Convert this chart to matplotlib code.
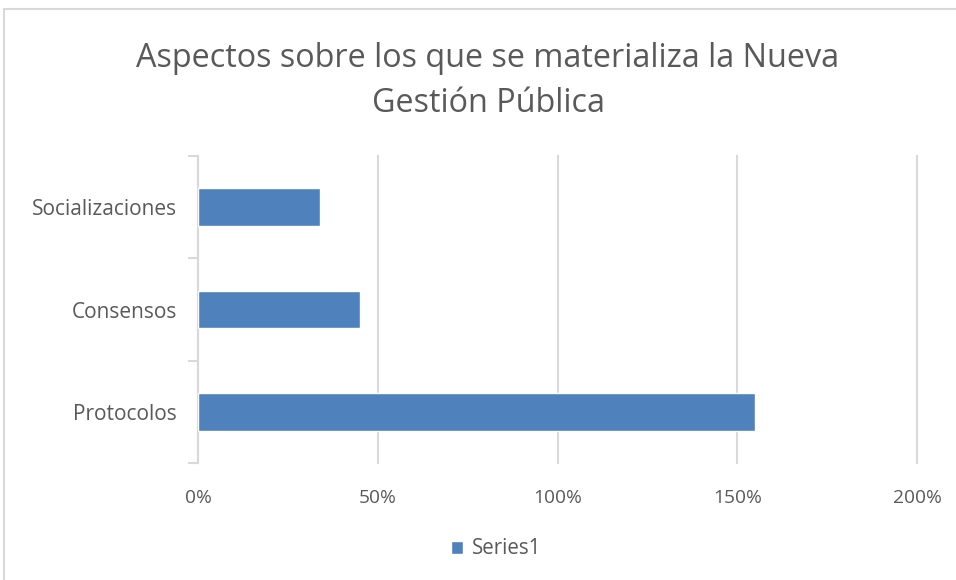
import matplotlib
matplotlib.use("Agg")
import matplotlib.pyplot as plt
from matplotlib.patches import Rectangle
from matplotlib.ticker import FuncFormatter, FixedLocator

categories = ["Protocolos", "Consensos", "Socializaciones"]
values = [1.55, 0.45, 0.34]
series_name = "Series1"
title = "Aspectos sobre los que se materializa la Nueva\nGestión Pública"
x_ticks = [0, 0.5, 1.0, 1.5, 2.0]

W, H = 956, 580
fig = plt.figure(figsize=(W / 100, H / 100), dpi=100)
fig.patch.set_facecolor("white")

# outer chart frame (extends beyond right/bottom edges)
fig.add_artist(Rectangle((4 / W, -0.1), 1.2, (H - 9) / H + 0.1,
                         transform=fig.transFigure, fill=False,
                         edgecolor="#d9d9d9", linewidth=1.5))

ax = fig.add_axes([198 / W, 1 - 463 / H, (917 - 198) / W, (463 - 156) / H])
text_color = "#595959"
grid_color = "#d9d9d9"

ypos = list(range(len(categories)))
ax.barh(ypos, values, height=0.37, color="#4F81BD", edgecolor="white",
        linewidth=1.0, label=series_name, zorder=3)

ax.set_xlim(0, 2.0)
ax.set_ylim(-0.5, len(categories) - 0.5)
ax.set_xticks(x_ticks)
ax.xaxis.set_major_formatter(FuncFormatter(lambda v, p: f"{v*100:.0f}%"))
ax.set_yticks(ypos)
ax.set_yticklabels(categories)
ax.yaxis.set_minor_locator(FixedLocator([-0.5, 0.5, 1.5, 2.5]))

font = "Open Sans"
for lab in ax.get_xticklabels():
    lab.set_fontfamily(font)
    lab.set_fontsize(13.8)
    lab.set_color(text_color)
for lab in ax.get_yticklabels():
    lab.set_fontfamily(font)
    lab.set_fontsize(15)
    lab.set_color(text_color)

ax.tick_params(axis="x", length=0, pad=19)
ax.tick_params(axis="y", which="major", length=0, pad=15)
ax.tick_params(axis="y", which="minor", length=7, width=1.5, color=grid_color)

ax.grid(axis="x", color=grid_color, linewidth=1.5, zorder=0)
for s in ["top", "right", "bottom"]:
    ax.spines[s].set_visible(False)
ax.spines["left"].set_color(grid_color)
ax.spines["left"].set_linewidth(1.5)
ax.set_axisbelow(True)
for gl in ax.get_xgridlines():
    gl.set_clip_on(False)

fig.text(488 / W, 1 - 81 / H, title, ha="center", va="center",
         fontsize=23.3, color=text_color, fontfamily=font, linespacing=1.45)

leg = fig.legend(loc="center", bbox_to_anchor=(496 / W, 1 - 549 / H),
                 frameon=False, prop={"family": font, "size": 14.8},
                 handlelength=0.6, handleheight=0.6, handletextpad=0.4)
for t in leg.get_texts():
    t.set_color(text_color)

fig.savefig("out.png", dpi=100, facecolor="white")
